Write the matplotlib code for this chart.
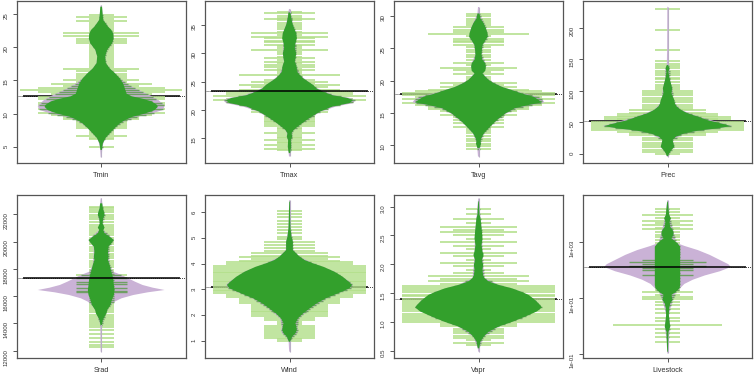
import numpy as np
import matplotlib.pyplot as plt
from matplotlib.patches import Polygon

plt.rcParams['font.family'] = ['Liberation Sans', 'DejaVu Sans']

# colours (RColorBrewer "Paired")
c_bean = '#33A02C'
c_other = '#CAB2D6'
c_lines = '#B2DF8A'
c_stripe = '#6f9f64'
c_tail = '#b9aec6'

# --- data ------------------------------------------------------------
# beans: (value, half width); lines: (value, number of points at that value)
tmin_green = [(26.1, .01), (25.1, .016), (24.1, .024), (23.1, .08), (22.6, .12), (22.1, .14), (21.3, .146),
              (20.6, .13), (19.6, .07), (18.6, .047), (17.6, .055), (16.8, .1), (16.1, .16), (15.3, .22),
              (14.5, .26), (13.8, .28), (13.0, .30), (12.6, .36), (12.2, .5), (11.8, .6), (11.3, .66),
              (11.0, .67), (10.5, .63), (10.0, .52), (9.5, .37), (9.0, .28), (8.5, .22), (7.8, .16),
              (7.0, .1), (6.3, .05), (5.5, .02), (4.5, .008)]
tmin_purple = [(26.3, .006), (25.1, .016), (24.1, .024), (23.1, .08), (22.1, .14), (21.3, .146), (20.6, .13),
               (19.6, .07), (18.6, .047), (17.6, .055), (16.8, .1), (16.1, .16), (15.3, .22), (14.5, .3),
               (13.8, .4), (13.2, .5), (12.6, .6), (12.0, .68), (11.3, .74), (11.0, .75), (10.5, .72),
               (10.0, .6), (9.5, .42), (9.0, .3), (8.5, .23), (7.8, .16), (7.0, .1), (6.3, .05), (5.5, .025),
               (4.5, .012), (3.4, .006)]
tmin_lines = [(24.8, 1), (24.5, 2), (24.2, 1), (23.9, 2), (23.6, 1), (23.3, 1), (23.0, 1), (22.7, 1), (22.4, 1),
              (22.2, 3), (21.9, 1), (21.7, 3), (21.4, 1), (21.2, 2), (20.9, 2), (20.6, 2), (20.3, 1), (20.0, 1),
              (19.7, 1), (19.4, 1), (19.1, 1), (18.8, 1), (18.5, 1), (18.2, 1), (17.9, 1), (17.6, 1), (17.3, 1),
              (17.0, 1), (16.7, 3), (16.4, 2), (16.1, 1), (15.9, 2), (15.6, 2), (15.3, 2), (15.0, 3), (14.7, 2),
              (14.4, 4), (14.1, 3), (13.8, 5), (13.5, 6.4), (13.2, 5), (12.9, 4), (12.5, 5), (12.2, 5),
              (11.9, 4), (11.6, 5), (11.3, 5), (11.0, 4), (10.7, 5), (10.4, 4), (10.1, 5), (9.8, 4), (9.5, 3),
              (9.2, 3), (9.0, 2), (8.7, 2), (8.4, 2), (8.1, 2), (7.8, 2), (7.5, 1), (7.2, 1), (6.9, 1), (6.6, 2),
              (6.3, 1), (6.1, 1), (5.0, 1)]
tmin_mean = 12.7

tmax_green = [(37.1, .012), (35.9, .024), (35.0, .04), (34.1, .063), (33.5, .08), (32.6, .087), (31.8, .071),
              (30.9, .063), (30.0, .079), (29.1, .071), (28.5, .063), (27.9, .079), (27.4, .087), (26.8, .087),
              (26.2, .12), (25.6, .16), (25.0, .22), (24.4, .28), (23.8, .32), (23.2, .4), (22.6, .51),
              (22.1, .69), (21.7, .75), (21.2, .71), (20.6, .51), (19.7, .36), (18.8, .26), (18.0, .18),
              (17.1, .1), (16.5, .05), (15.9, .024), (15.3, .032), (14.7, .016), (13.5, .02), (12.4, .008)]
tmax_purple = [(37.8, .006), (35.0, .04), (33.5, .08), (31.8, .07), (30.0, .08), (28.5, .065), (27.4, .088),
               (26.2, .12), (25.0, .22), (23.8, .33), (22.6, .53), (22.1, .72), (21.7, .78), (21.2, .75),
               (20.6, .55), (19.7, .37), (18.8, .27), (18.0, .18), (17.1, .1), (16.5, .05), (15.9, .03),
               (15.3, .032), (14.7, .016), (13.5, .02), (12.4, .01), (11.8, .006)]
tmax_lines = [(37.2, 1), (37.0, 2), (36.6, 1), (36.2, 1), (36.0, 2), (35.8, 1), (35.4, 1), (35.0, 1), (34.6, 1),
              (34.2, 1), (33.8, 1), (33.5, 3), (33.2, 1), (32.9, 3), (32.6, 2), (32.2, 2), (31.9, 2), (31.5, 2),
              (31.2, 1), (30.9, 1), (30.6, 3), (30.2, 1), (29.8, 1), (29.4, 1), (29.1, 2), (28.8, 1), (28.5, 2),
              (28.2, 1), (27.9, 2), (27.6, 2), (27.3, 1), (27.1, 2), (26.8, 1), (26.5, 1), (26.2, 4), (25.9, 1),
              (25.6, 1), (25.3, 2), (25.0, 3), (24.7, 2), (24.4, 4), (24.0, 3), (23.6, 4), (23.2, 5), (22.8, 5),
              (22.4, 6), (22.0, 5), (21.7, 6), (21.4, 5), (21.1, 4), (20.8, 4), (20.5, 3), (20.2, 3), (19.9, 2),
              (19.6, 3), (19.3, 2), (19.0, 2), (18.7, 2), (18.4, 2), (18.1, 2), (17.8, 2), (17.5, 2), (17.2, 2),
              (16.9, 1), (16.6, 1), (16.3, 1), (15.9, 2), (15.6, 1), (15.3, 1), (15.0, 1), (14.7, 2), (14.4, 1),
              (14.1, 1), (13.8, 2), (13.5, 1), (13.2, 2), (12.9, 1)]
tmax_mean = 23.4

tavg_green = [(30.4, .012), (29.6, .024), (28.9, .06), (28.1, .087), (27.3, .107), (26.8, .11), (26.2, .08),
              (25.5, .047), (24.7, .04), (24.0, .036), (23.2, .047), (22.7, .08), (22.1, .087), (21.5, .08),
              (21.1, .047), (20.6, .08), (20.1, .12), (19.6, .18), (19.0, .28), (18.5, .4), (18.0, .51),
              (17.5, .65), (17.0, .71), (16.6, .75), (16.2, .59), (15.7, .43), (14.9, .32), (14.1, .24),
              (13.4, .18), (12.6, .12), (11.8, .063), (11.0, .032), (10.5, .024), (10.2, .03), (9.5, .012)]
tavg_purple = [(31.4, .006), (30.4, .012), (28.1, .09), (26.8, .11), (25.5, .05), (24.0, .038), (22.7, .08),
               (22.1, .087), (21.1, .05), (20.1, .12), (19.0, .28), (18.0, .53), (17.5, .7), (17.0, .76),
               (16.6, .78), (16.2, .63), (15.7, .45), (14.9, .33), (13.4, .18), (11.8, .065), (10.5, .025),
               (9.5, .014), (8.2, .006)]
tavg_lines = [(30.3, 1), (30.0, 1), (29.6, 1), (29.2, 1), (28.9, 1), (28.6, 1), (28.3, 2), (27.9, 2), (27.6, 2),
              (27.2, 4), (26.9, 1), (26.5, 2), (26.2, 2), (25.9, 2), (25.5, 2), (25.2, 1), (24.8, 1), (24.4, 1),
              (24.0, 1), (23.6, 1), (23.2, 1), (22.7, 2), (22.4, 1), (21.9, 3), (21.6, 2), (21.3, 1), (21.0, 2),
              (20.6, 1), (20.2, 1), (19.9, 1), (19.6, 3), (19.3, 2), (19.0, 3), (18.6, 4), (18.3, 5), (18.0, 6),
              (17.7, 6), (17.4, 5), (17.1, 6), (16.8, 5), (16.5, 6), (16.2, 5), (15.9, 4), (15.6, 4), (15.3, 3),
              (14.9, 2), (14.6, 3), (14.4, 2), (14.1, 1), (13.9, 2), (13.6, 1), (13.4, 2), (13.1, 1), (12.8, 2),
              (12.5, 1), (12.2, 1), (11.8, 1), (11.4, 1), (11.0, 1), (10.6, 1), (10.2, 1), (9.8, 1), (9.4, 1)]
tavg_mean = 17.86

prec_green = [(140.9, .008), (135.6, .024), (130.3, .012), (119.8, .024), (111.9, .04), (104.0, .055),
              (96.0, .047), (90.8, .063), (85.5, .08), (80.2, .087), (75.0, .11), (69.7, .16), (64.4, .24),
              (59.1, .36), (53.8, .47), (48.5, .63), (44.3, .75), (40.6, .59), (37.0, .36), (32.7, .2),
              (27.4, .1), (22.2, .06), (16.9, .07), (11.6, .08), (6.3, .047), (1.1, .02), (-3.2, .008)]
prec_purple = [(233, .004), (165, .005), (140.9, .008), (135.6, .024), (119.8, .024), (104.0, .055),
               (90.8, .063), (80.2, .087), (69.7, .16), (59.1, .37), (48.5, .65), (44.3, .77), (40.6, .6),
               (37.0, .37), (32.7, .2), (22.2, .06), (11.6, .08), (1.1, .02), (-4.5, .004)]
prec_lines = [(229, 1), (197, 1), (165, 1), (147, 1), (143, 1), (139, 1), (136, 1), (132, 1), (129, 1), (125, 1),
              (121, 1), (118, 1), (114, 1), (110, 1), (106, 1), (103, 1), (100, 2), (96.5, 2), (93, 2), (89, 2),
              (85.5, 2), (82, 2), (78, 2), (75, 2), (71, 2), (69, 3), (65.5, 3), (63, 4), (59.5, 4), (58, 5),
              (56, 4), (55, 5), (50, 6), (47, 6), (44, 6), (41, 6), (38, 6), (35.5, 4), (33.5, 3), (30, 3),
              (26, 2), (22, 2), (18, 2), (14.5, 2), (11, 2), (7, 2), (3.5, 2), (0, 1)]
prec_mean = 52.8

srad_green = [(22807, .012), (22440, .02), (22147, .035), (21951, .04), (21707, .024), (21340, .016),
              (21022, .04), (20851, .024), (20606, .04), (20362, .1), (20117, .15), (19873, .12), (19628, .087),
              (19262, .08), (18895, .087), (18650, .08), (18284, .1), (17795, .12), (17306, .142), (16817, .15),
              (16450, .158), (16083, .15), (15716, .126), (15350, .11), (14983, .071), (14739, .063),
              (14494, .04), (14250, .02), (13883, .008)]
srad_purple = [(23170, .006), (22440, .02), (21951, .04), (21340, .016), (20851, .024), (20117, .15),
               (19628, .09), (18895, .09), (18284, .1), (17795, .14), (17550, .24), (17306, .32), (17060, .4),
               (16817, .49), (16620, .61), (16450, .75), (16280, .55), (16083, .38), (15840, .24), (15600, .16),
               (15350, .11), (14983, .072), (14494, .04), (13883, .01), (11930, .006)]
srad_lines = [(22560, 1), (22440, 1), (22300, 1), (22150, 1), (21950, 1), (21800, 1), (21650, 1), (21450, 1),
              (21250, 1), (21100, 1), (20950, 1), (20800, 1), (20600, 1), (20450, 1), (20300, 1), (20150, 1),
              (19950, 1), (19800, 1), (19600, 1), (19450, 1), (19300, 1), (19100, 1), (18950, 1), (18800, 1),
              (18600, 1), (18450, 1), (18300, 1), (18150, 1), (17950, 1), (17800, 1), (17650, 1), (17550, 2),
              (17400, 1), (17300, 2), (17150, 1), (17000, 2), (16900, 2), (16750, 1), (16600, 2), (16500, 1),
              (16400, 2), (16300, 2), (16150, 1), (16000, 1), (15850, 1), (15700, 1), (15550, 1), (15400, 1),
              (15250, 1), (15100, 1), (14950, 1), (14800, 1), (14650, 1), (14500, 1), (14350, 1), (14200, 1),
              (14050, 1), (13900, 1), (13700, 1), (13500, 1), (13250, 1), (12950, 1), (12600, 1), (12450, 1),
              (12250, 1)]
srad_mean = 17306

wind_green = [(6.42, .004), (5.77, .008), (5.38, .012), (5.05, .024), (4.86, .04), (4.73, .04), (4.53, .04),
              (4.40, .08), (4.27, .12), (4.14, .18), (4.01, .28), (3.88, .4), (3.69, .53), (3.49, .63),
              (3.30, .7), (3.17, .74), (3.04, .71), (2.84, .57), (2.65, .43), (2.45, .32), (2.26, .24),
              (2.06, .16), (1.87, .1), (1.68, .071), (1.55, .08), (1.42, .087), (1.29, .071), (1.16, .032),
              (0.96, .008)]
wind_purple = [(6.48, .004), (5.38, .012), (4.86, .04), (4.53, .045), (4.27, .12), (4.01, .28), (3.69, .53),
               (3.30, .71), (3.17, .75), (3.04, .72), (2.65, .44), (2.26, .25), (1.87, .11), (1.55, .09),
               (1.42, .1), (1.29, .09), (1.16, .04), (0.96, .01), (0.57, .004)]
wind_lines = [(6.05, 1), (5.92, 1), (5.8, 1), (5.68, 1), (5.55, 1), (5.42, 1), (5.3, 1), (5.18, 1), (5.05, 1),
              (4.95, 1), (4.85, 2), (4.72, 2), (4.6, 2), (4.5, 2), (4.4, 3), (4.3, 3), (4.25, 4), (4.2, 3),
              (4.12, 4), (4.05, 5), (3.97, 5), (3.9, 6), (3.83, 6), (3.76, 6), (3.69, 6), (3.62, 6), (3.55, 6),
              (3.48, 6), (3.41, 6), (3.34, 6), (3.27, 6), (3.2, 6), (3.13, 6), (3.06, 6), (2.99, 6), (2.92, 6),
              (2.85, 6), (2.78, 5), (2.7, 5), (2.62, 4), (2.55, 4), (2.47, 4), (2.4, 3), (2.32, 3), (2.25, 3),
              (2.17, 3), (2.1, 3), (2.02, 3), (1.95, 3), (1.87, 2), (1.8, 2), (1.72, 1), (1.65, 1), (1.57, 2),
              (1.5, 2), (1.42, 2), (1.35, 2), (1.27, 2), (1.2, 2), (1.12, 2), (1.05, 1), (0.97, 1)]
wind_mean = 3.08

vapr_green = [(3.09, .004), (2.86, .012), (2.80, .024), (2.68, .032), (2.57, .04), (2.45, .047), (2.33, .036),
              (2.22, .047), (2.16, .06), (2.07, .04), (1.99, .055), (1.90, .047), (1.81, .055), (1.76, .071),
              (1.70, .12), (1.64, .24), (1.58, .4), (1.52, .51), (1.47, .59), (1.38, .67), (1.29, .73),
              (1.25, .75), (1.18, .69), (1.09, .55), (1.00, .4), (0.92, .24), (0.83, .12), (0.74, .06),
              (0.66, .024), (0.54, .008)]
vapr_purple = [(3.14, .004), (2.80, .024), (2.57, .04), (2.22, .047), (1.99, .055), (1.76, .071), (1.64, .24),
               (1.52, .51), (1.38, .67), (1.25, .75), (1.09, .55), (0.92, .24), (0.74, .06), (0.54, .008),
               (0.48, .004)]
vapr_lines = [(2.95, 1), (2.87, 1), (2.79, 2), (2.72, 1), (2.65, 3), (2.6, 2), (2.55, 3), (2.5, 2), (2.44, 1),
              (2.38, 3), (2.32, 2), (2.26, 1), (2.2, 3), (2.14, 2), (2.08, 1), (2.02, 3), (1.96, 2), (1.9, 1),
              (1.84, 2), (1.8, 4), (1.75, 3), (1.7, 4), (1.66, 3), (1.62, 6), (1.58, 6), (1.55, 6), (1.51, 6),
              (1.47, 6), (1.44, 6), (1.4, 6), (1.36, 6), (1.33, 6), (1.29, 6), (1.25, 6), (1.22, 6), (1.18, 6),
              (1.14, 6), (1.1, 6), (1.07, 6), (1.03, 6), (0.99, 6), (0.96, 3), (0.92, 3), (0.88, 2), (0.84, 2),
              (0.8, 2), (0.76, 2), (0.72, 2), (0.68, 1), (0.64, 2), (0.6, 1)]
vapr_mean = 1.40

# livestock on a log axis: values given as log10
livestock_green = [(4.42, .004), (3.95, .02), (3.83, .04), (3.71, .024), (3.53, .032), (3.36, .071),
                   (3.24, .071), (3.12, .047), (2.94, .12), (2.82, .15), (2.64, .15), (1.46, .15), (1.34, .142),
                   (1.22, .1), (1.11, .047), (0.93, .06), (0.81, .032), (0.63, .02), (0.40, .016), (0.16, .024),
                   (-0.02, .032), (-0.2, .012), (-0.55, .008), (-0.91, .004)]
livestock_purple = [(4.47, .004), (3.95, .02), (3.36, .07), (3.0, .1), (2.94, .12), (2.85, .2), (2.7, .36),
                    (2.53, .5), (2.35, .62), (2.2, .72), (2.1, .75), (1.95, .62), (1.8, .44), (1.65, .3),
                    (1.5, .2), (1.35, .15), (1.22, .1), (0.93, .06), (0.40, .016), (-0.02, .032),
                    (-0.55, .008), (-0.97, .004)]
livestock_lines = [(4.15, 1), (4.05, 1), (3.95, 2), (3.85, 1), (3.75, 2), (3.65, 1), (3.6, 2), (3.5, 1),
                   (3.45, 2), (3.35, 1), (3.25, 1), (3.15, 1), (3.05, 1), (2.95, 1), (2.85, 1), (2.75, 1),
                   (2.65, 1), (2.55, 1), (2.45, 1), (2.35, 2), (2.28, 3), (2.2, 2), (2.15, 3), (2.05, 2),
                   (2.0, 2), (1.9, 1), (1.82, 2), (1.7, 1), (1.6, 1), (1.5, 1), (1.4, 1), (1.3, 1), (1.2, 2),
                   (1.1, 1), (1.05, 2), (0.95, 2), (0.85, 1), (0.75, 1), (0.62, 1), (0.45, 1), (0.3, 1),
                   (0.2, 1), (0.04, 4.3), (-0.1, 1), (-0.25, 1), (-0.4, 1), (-0.55, 1)]
livestock_mean = 2.11

# --- layout ------------------------------------------------------------
W, H = 754, 375
col_left = [16.7, 205, 394, 583]
col_w = 169
row_tb = [(1, 163), (195, 358)]
ll = 0.15        # length of one beanline (half, axis units)
avg_half = 0.93

panels = [
    dict(name='Tmin', g=tmin_green, p=tmin_purple, l=tmin_lines, m=tmin_mean,
         ylim=(2.54, 26.96), ticks=[5, 10, 15, 20, 25], top=False),
    dict(name='Tmax', g=tmax_green, p=tmax_purple, l=tmax_lines, m=tmax_mean,
         ylim=(10.65, 39.2), ticks=[15, 20, 25, 30, 35], top=True),
    dict(name='Tavg', g=tavg_green, p=tavg_purple, l=tavg_lines, m=tavg_mean,
         ylim=(7.21, 32.33), ticks=[10, 15, 20, 25, 30], top=False),
    dict(name='Prec', g=prec_green, p=prec_purple, l=prec_lines, m=prec_mean,
         ylim=(-14.2, 242.2), ticks=[0, 50, 100, 150, 200], top=False),
    dict(name='Srad', g=srad_green, p=srad_purple, l=srad_lines, m=srad_mean,
         ylim=(11462, 23418), ticks=[12000, 14000, 16000, 18000, 20000, 22000], top=True),
    dict(name='Wind', g=wind_green, p=wind_purple, l=wind_lines, m=wind_mean,
         ylim=(0.325, 6.675), ticks=[1, 2, 3, 4, 5, 6], top=False),
    dict(name='Vapr', g=vapr_green, p=vapr_purple, l=vapr_lines, m=vapr_mean,
         ylim=(0.373, 3.2), ticks=[0.5, 1.0, 1.5, 2.0, 2.5, 3.0], top=False,
         labels=['0.5', '1.0', '1.5', '2.0', '2.5', '3.0']),
    dict(name='Livestock', g=livestock_green, p=livestock_purple, l=livestock_lines, m=livestock_mean,
         ylim=(-1.13, 4.657), ticks=[-1, 1, 3], top=True, log=True,
         labels=['1e-01', '1e+01', '1e+03']),
]


def bean_patch(ys, ws, color, z):
    verts = np.column_stack([np.concatenate([ws, -ws[::-1]]),
                             np.concatenate([ys, ys[::-1]])])
    return Polygon(verts, closed=True, facecolor=color, edgecolor='none', zorder=z)


fig = plt.figure(figsize=(W / 100, H / 100), dpi=100)

for i, pn in enumerate(panels):
    r, c = divmod(i, 4)
    top, bot = row_tb[r]
    ax = fig.add_axes([col_left[c] / W, 1 - bot / H, col_w / W, (bot - top) / H])
    islog = pn.get('log', False)
    conv = (lambda v: 10.0 ** v) if islog else (lambda v: v)
    if islog:
        ax.set_yscale('log')

    ax.set_xlim(-1, 1)
    lo, hi = pn['ylim']
    ax.set_ylim(conv(lo), conv(hi))

    m = conv(pn['m'])
    ax.axhline(m, color='black', lw=0.6, ls=(0, (1, 1.5)), zorder=1)
    ax.hlines(m, -avg_half, avg_half, color='black', lw=1.1, zorder=6 if pn['top'] else 2)

    lv = np.array([a for a, b in pn['l']])
    ln = np.array([b for a, b in pn['l']]) * ll
    ly = conv(lv)
    ax.hlines(ly, -ln, ln, color=c_lines, lw=1.15, zorder=3)

    pv = np.array([a for a, b in pn['p']])
    pw = np.array([b for a, b in pn['p']])
    ax.add_patch(bean_patch(conv(pv), pw, c_other, 4))
    # the part of each beanline lying on the purple bean shows darker
    inner = np.minimum(ln, np.interp(lv, pv[::-1], pw[::-1], left=0, right=0))
    keep = inner > 0.01
    ax.hlines(ly[keep], -inner[keep], inner[keep], color=c_stripe, lw=1.0, zorder=4.2)

    ax.vlines(0, conv(pv.min()), conv(pv.max()), color=c_tail, lw=0.8, zorder=4.4)

    gv = np.array([a for a, b in pn['g']])
    gw = np.array([b for a, b in pn['g']])
    ax.add_patch(bean_patch(conv(gv), gw, c_bean, 5))

    ax.set_yticks([conv(t) for t in pn['ticks']])
    ax.set_yticklabels(pn.get('labels', [str(t) for t in pn['ticks']]))
    ax.minorticks_off()
    ax.set_xticks([0])
    ax.set_xticklabels([pn['name']])
    ax.tick_params(axis='y', labelrotation=90, labelsize=4.4, length=2.9, pad=3.0,
                   color='#555555', labelcolor='#333333', width=0.7)
    ax.tick_params(axis='x', labelsize=5.3, length=2.9, pad=3.4,
                   color='#555555', labelcolor='#333333', width=0.7)
    for s in ax.spines.values():
        s.set_color('#555555')
        s.set_linewidth(0.9)

fig.savefig('out.png', dpi=100)
